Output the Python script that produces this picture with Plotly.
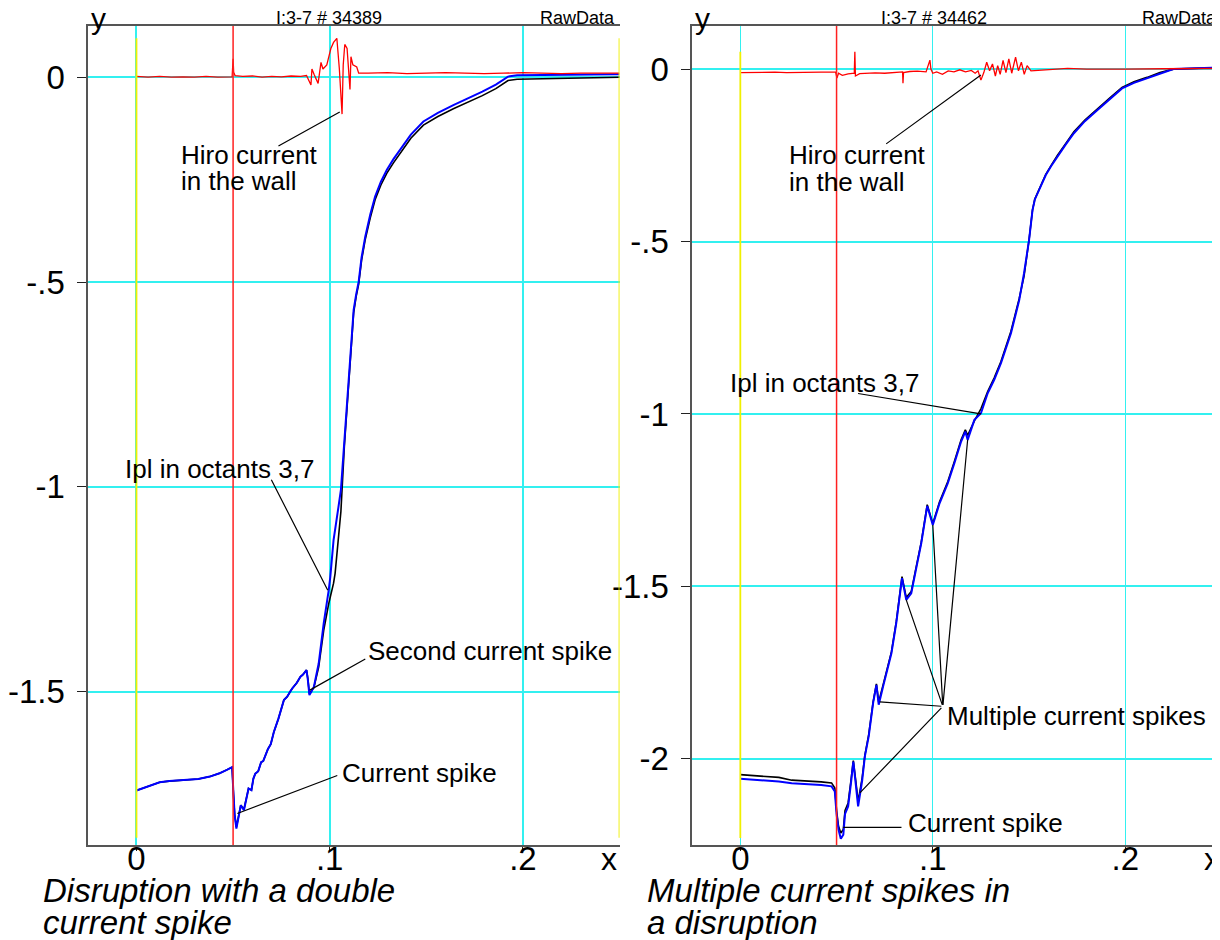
import plotly.graph_objects as go

FONT = "Liberation Sans, Arial, Helvetica, sans-serif"

# ---------------- Left panel: shot 34389 ----------------
left_title = "I:3-7 # 34389"
left_caption = ["Disruption with a double", "current spike"]

left_ipl_x = [0.0, 0.004, 0.008, 0.012, 0.017, 0.025, 0.032, 0.038, 0.043, 0.047,
              0.0495, 0.0502, 0.0508, 0.0517, 0.053, 0.054, 0.0556, 0.057, 0.058, 0.0595,
              0.0605, 0.0615, 0.063, 0.0645, 0.0656, 0.068, 0.0695, 0.0711, 0.0735, 0.0763,
              0.078, 0.0795, 0.0806, 0.083, 0.0849, 0.0862, 0.087, 0.088, 0.0887, 0.0895,
              0.0905, 0.0918, 0.0943, 0.0969, 0.0995, 0.1003, 0.102, 0.1028, 0.1045, 0.1058,
              0.1076, 0.1092, 0.1107, 0.1124, 0.1137, 0.115, 0.1165, 0.1184, 0.121, 0.1235,
              0.1265, 0.1296, 0.133, 0.1364, 0.142, 0.1485, 0.156, 0.164, 0.172, 0.179,
              0.186, 0.1923, 0.197, 0.22, 0.25]
left_ipl_blue = [-1.741, -1.734, -1.727, -1.721, -1.718, -1.716, -1.713, -1.707, -1.699, -1.69,
                 -1.684, -1.75, -1.80, -1.834, -1.80, -1.777, -1.789, -1.752, -1.736, -1.74,
                 -1.712, -1.70, -1.694, -1.672, -1.669, -1.64, -1.628, -1.598, -1.565, -1.520,
                 -1.512, -1.500, -1.492, -1.478, -1.463, -1.458, -1.452, -1.447, -1.471, -1.508,
                 -1.500, -1.488, -1.431, -1.333, -1.252, -1.22, -1.13, -1.10, -1.05, -1.0075,
                 -0.886, -0.78, -0.682, -0.568, -0.53, -0.499, -0.44, -0.389, -0.335, -0.291,
                 -0.255, -0.226, -0.200, -0.177, -0.140, -0.108, -0.087, -0.068, -0.051, -0.035,
                 -0.018, 0.0015, 0.005, 0.006, 0.007]
left_ipl_black = [-1.741, -1.734, -1.727, -1.721, -1.718, -1.716, -1.713, -1.707, -1.699, -1.69,
                  -1.684, -1.75, -1.80, -1.83, -1.80, -1.777, -1.787, -1.752, -1.736, -1.74,
                  -1.712, -1.70, -1.694, -1.672, -1.669, -1.64, -1.628, -1.598, -1.565, -1.520,
                  -1.512, -1.500, -1.492, -1.478, -1.463, -1.458, -1.452, -1.447, -1.468, -1.505,
                  -1.498, -1.49, -1.44, -1.35, -1.285, -1.27, -1.235, -1.211, -1.12, -1.06,
                  -0.90, -0.79, -0.688, -0.575, -0.535, -0.505, -0.447, -0.396, -0.343, -0.299,
                  -0.263, -0.234, -0.209, -0.186, -0.149, -0.117, -0.096, -0.077, -0.06, -0.045,
                  -0.028, -0.008, -0.005, -0.003, 0.0]

left_hiro_x = [0.0, 0.006, 0.012, 0.018, 0.024, 0.03, 0.036, 0.042, 0.0495, 0.0500,
               0.0503, 0.051, 0.055, 0.06, 0.065, 0.07, 0.075, 0.08, 0.085, 0.088,
               0.0903, 0.0908, 0.092, 0.094, 0.0955, 0.0965, 0.0985, 0.1006, 0.102, 0.1037,
               0.105, 0.1064, 0.107, 0.1078, 0.109, 0.1105, 0.111, 0.112, 0.114, 0.115,
               0.12, 0.13, 0.14, 0.15, 0.16, 0.17, 0.18, 0.19, 0.2, 0.21,
               0.22, 0.23, 0.24, 0.25]
left_hiro_y = [0.002, 0.0, 0.002, 0.0, 0.001, 0.0, 0.002, 0.0, 0.001, 0.045,
               0.012, 0.004, 0.002, 0.003, 0.0, 0.002, 0.001, 0.003, 0.002, 0.004,
               -0.019, 0.02, 0.006, -0.015, 0.036, 0.02, 0.03, 0.07, 0.085, 0.095,
               0.02, -0.09, 0.03, 0.08, 0.07, -0.03, 0.05, 0.03, 0.025, 0.01,
               0.01, 0.011, 0.009, 0.01, 0.011, 0.01, 0.009, 0.01, 0.011, 0.01,
               0.009, 0.01, 0.01, 0.01]

# ---------------- Right panel: shot 34462 ----------------
right_title = "I:3-7 # 34462"
right_caption = ["Multiple current spikes in", "a disruption"]

right_ipl_x = [0.0, 0.01, 0.02, 0.0267, 0.035, 0.042, 0.0474, 0.0491, 0.0500, 0.051,
               0.0522, 0.0535, 0.0544, 0.056, 0.0575, 0.0587, 0.0600, 0.0612, 0.0633, 0.0647,
               0.0667, 0.069, 0.0707, 0.0719, 0.0742, 0.0767, 0.0785, 0.081, 0.084, 0.0862,
               0.0888, 0.0914, 0.094, 0.0971, 0.1, 0.1035, 0.1078, 0.1112, 0.1147, 0.1169,
               0.1181, 0.1216, 0.125, 0.1285, 0.1319, 0.1354, 0.1406, 0.1449, 0.1474, 0.150,
               0.1518, 0.153, 0.1544, 0.156, 0.1587, 0.1615, 0.1647, 0.169, 0.1733, 0.179,
               0.1854, 0.192, 0.1983, 0.2045, 0.2113, 0.218, 0.225, 0.25]
right_ipl_blue = [-2.058, -2.062, -2.066, -2.071, -2.073, -2.076, -2.08, -2.095, -2.16, -2.205,
                  -2.232, -2.22, -2.16, -2.138, -2.07, -2.008, -2.075, -2.138, -2.063, -1.993,
                  -1.935, -1.838, -1.786, -1.843, -1.79, -1.732, -1.694, -1.607, -1.476, -1.539,
                  -1.52, -1.447, -1.375, -1.267, -1.322, -1.259, -1.201, -1.143, -1.080, -1.051,
                  -1.075, -1.017, -0.998, -0.94, -0.901, -0.853, -0.766, -0.670, -0.592, -0.496,
                  -0.409, -0.378, -0.360, -0.338, -0.307, -0.281, -0.254, -0.219, -0.186, -0.151,
                  -0.119, -0.086, -0.056, -0.04, -0.027, -0.012, 0.0, 0.005]
right_ipl_black = [-2.046, -2.05, -2.054, -2.062, -2.064, -2.067, -2.07, -2.085, -2.15, -2.195,
                   -2.215, -2.205, -2.15, -2.128, -2.062, -2.005, -2.065, -2.124, -2.055, -1.99,
                   -1.93, -1.835, -1.783, -1.835, -1.785, -1.728, -1.69, -1.603, -1.472, -1.532,
                   -1.515, -1.443, -1.372, -1.263, -1.318, -1.255, -1.196, -1.138, -1.075, -1.046,
                   -1.062, -1.02, -0.985, -0.935, -0.895, -0.848, -0.76, -0.665, -0.6, -0.495,
                   -0.408, -0.377, -0.358, -0.336, -0.305, -0.279, -0.25, -0.216, -0.182, -0.148,
                   -0.115, -0.083, -0.053, -0.037, -0.024, -0.01, 0.0, 0.005]

right_hiro_x = [0.0, 0.006, 0.012, 0.018, 0.024, 0.03, 0.036, 0.042, 0.0495, 0.0502,
                0.051, 0.053, 0.056, 0.0592, 0.0595, 0.0598, 0.062, 0.066, 0.07, 0.075,
                0.08, 0.0843, 0.0845, 0.0848, 0.088, 0.092, 0.0965, 0.0985, 0.099, 0.1,
                0.102, 0.105, 0.108, 0.111, 0.114, 0.117, 0.12, 0.122, 0.1235, 0.125,
                0.1265, 0.128, 0.1295, 0.131, 0.1325, 0.1337, 0.135, 0.1365, 0.138, 0.1395,
                0.141, 0.143, 0.1445, 0.146, 0.1475, 0.149, 0.151, 0.16, 0.17, 0.18,
                0.19, 0.2, 0.22, 0.24, 0.25]
right_hiro_y = [-0.01, -0.009, -0.01, -0.009, -0.01, -0.009, -0.01, -0.009, -0.009, -0.026,
                -0.012, -0.018, -0.014, -0.012, 0.05, -0.02, -0.013, -0.012, -0.011, -0.012,
                -0.01, -0.008, -0.041, -0.01, -0.007, -0.006, -0.008, 0.026, 0.0, -0.012,
                -0.008, -0.015, -0.005, -0.008, -0.002, -0.008, -0.004, -0.012, -0.005, -0.032,
                -0.01, 0.02, -0.005, 0.015, -0.02, 0.01, -0.015, 0.025, -0.01, 0.03,
                -0.012, 0.035, -0.005, 0.02, -0.015, 0.01, -0.005, -0.002, 0.002, 0.0,
                0.001, 0.0, 0.001, 0.002, 0.002]

# event markers (disruption onset and window limits)
event_x = 0.05
window_x = [0.0, 0.25]

x_ticks = [0, 0.1, 0.2]
x_ticktext = ["0", ".1", ".2"]
left_yticks = [0, -0.5, -1, -1.5]
left_yticktext = ["0", "-.5", "-1", "-1.5"]
right_yticks = [0, -0.5, -1, -1.5, -2]
right_yticktext = ["0", "-.5", "-1", "-1.5", "-2"]

W, H = 1220, 940
OFF = 8  # page body margin offset of the plot div


def px(x):
    return (x - OFF) / W


def py(y):
    return 1 - (y - OFF) / H


fig = go.Figure()
for xa, ya, hx, hy, ix, ib, ik in [
    ("x", "y", left_hiro_x, left_hiro_y, left_ipl_x, left_ipl_blue, left_ipl_black),
    ("x2", "y2", right_hiro_x, right_hiro_y, right_ipl_x, right_ipl_blue, right_ipl_black),
]:
    fig.add_trace(go.Scatter(x=ix, y=ik, mode="lines", line=dict(color="black", width=1.6),
                             xaxis=xa, yaxis=ya, showlegend=False, hoverinfo="skip"))
    fig.add_trace(go.Scatter(x=ix, y=ib, mode="lines", line=dict(color="#0000ff", width=2),
                             xaxis=xa, yaxis=ya, showlegend=False, hoverinfo="skip"))
    fig.add_trace(go.Scatter(x=hx, y=hy, mode="lines", line=dict(color="#ff0000", width=1.3),
                             xaxis=xa, yaxis=ya, showlegend=False, hoverinfo="skip"))

axis_common = dict(showgrid=True, gridcolor="#33f0f0", zeroline=False, showline=True,
                   linecolor="#555", linewidth=1.5, ticks="outside", tickcolor="#222",
                   tickfont=dict(family=FONT, size=33, color="black"))

fig.update_layout(
    width=W, height=H, margin=dict(l=0, r=0, t=0, b=0),
    paper_bgcolor="white", plot_bgcolor="white",
    xaxis=dict(domain=[px(83.5), px(617)], range=[-0.025, 0.25], anchor="y",
               tickvals=x_ticks, ticktext=x_ticktext, ticklen=4, gridwidth=1.5, mirror=True,
               ticklabelstandoff=-20, **axis_common),
    yaxis=dict(domain=[py(845), py(26)], range=[-1.874, 0.125], anchor="x",
               tickvals=left_yticks, ticktext=left_yticktext, ticklen=9, gridwidth=1.5,
               ticklabelstandoff=6, **axis_common),
    xaxis2=dict(domain=[px(690), px(1221.5)], range=[-0.025, 0.25], anchor="y2",
                tickvals=x_ticks, ticktext=x_ticktext, ticklen=4, gridwidth=1.3, mirror=True,
                ticklabelstandoff=-20, **axis_common),
    yaxis2=dict(domain=[py(845), py(26)], range=[-2.25, 0.125], anchor="x2",
                tickvals=right_yticks, ticktext=right_yticktext, ticklen=9, gridwidth=1.5,
                ticklabelstandoff=6, **axis_common),
)

# marker lines
shapes = []
for xr, yr, ytop, ybot in [("x", "y", 0.095, -1.856), ("x2", "y2", 0.05, -2.23)]:
    shapes.append(dict(type="line", xref=xr, yref=yr + " domain", x0=event_x, x1=event_x,
                       y0=0, y1=1, line=dict(color="#ff2020", width=1.5), layer="above"))
    for wx in window_x:
        shapes.append(dict(type="line", xref=xr, yref=yr, x0=wx, x1=wx, y0=ybot, y1=ytop,
                           line=dict(color="#f0f000", width=1.8), layer="above"))
fig.update_layout(shapes=shapes)

ann = []


def text(xr, yr, x, y, s, size=26, anchor="left"):
    ann.append(dict(xref=xr, yref=yr, x=x, y=y, text=s, showarrow=False, xanchor=anchor,
                    yanchor="middle", font=dict(family=FONT, size=size, color="black")))


def leader(xr, yr, x0, y0, x1, y1):
    ann.append(dict(xref=xr, yref=yr, axref=xr, ayref=yr, x=x1, y=y1, ax=x0, ay=y0, text="",
                    showarrow=True, arrowhead=0, arrowwidth=1.2, arrowcolor="black",
                    standoff=0, startstandoff=0))


# left annotations
text("x", "y", 0.0222, -0.190, "Hiro current")
text("x", "y", 0.0222, -0.253, "in the wall")
leader("x", "y", 0.0727, -0.170, 0.1052, -0.085)
text("x", "y", -0.0072, -0.956, "Ipl in octants 3,7")
leader("x", "y", 0.0694, -0.979, 0.099, -1.252)
text("x", "y", 0.1186, -1.401, "Second current spike")
leader("x", "y", 0.1192, -1.418, 0.0897, -1.496)
text("x", "y", 0.1052, -1.699, "Current spike")
leader("x", "y", 0.1047, -1.703, 0.0522, -1.797)

# right annotations
text("x2", "y2", 0.0242, -0.249, "Hiro current")
text("x2", "y2", 0.0242, -0.327, "in the wall")
leader("x2", "y2", 0.075, -0.220, 0.125, -0.017)
text("x2", "y2", -0.0064, -0.911, "Ipl in octants 3,7")
leader("x2", "y2", 0.0604, -0.940, 0.125, -1.0)
text("x2", "y2", 0.1061, -1.877, "Multiple current spikes")
for tx, ty in [(0.0724, -1.835), (0.0621, -2.099), (0.0862, -1.539), (0.1, -1.322), (0.1181, -1.075)]:
    leader("x2", "y2", 0.1052, -1.848, tx, ty)
text("x2", "y2", 0.0859, -2.186, "Current spike")
leader("x2", "y2", 0.0845, -2.199, 0.0535, -2.199)

# headers, axis letters, captions
for cx, rx, lx, title in [(325, 614, 84, left_title), (933, 1219, 691, right_title)]:
    text("paper", "paper", px(cx), py(18), title, size=18, anchor="center")
    text("paper", "paper", px(rx), py(18), "RawData", size=18, anchor="right")
    text("paper", "paper", px(lx), py(19), "y", size=30, anchor="left")
for xx in [606, 1212]:
    text("paper", "paper", px(xx), py(859), "x", size=32, anchor="center")
for cx, lines in [(36, left_caption), (643, right_caption)]:
    text("paper", "paper", px(cx), py(890), "<i>" + lines[0] + "</i>", size=33)
    text("paper", "paper", px(cx), py(922), "<i>" + lines[1] + "</i>", size=33)

fig.update_layout(annotations=ann)
fig.write_html("out.html")
